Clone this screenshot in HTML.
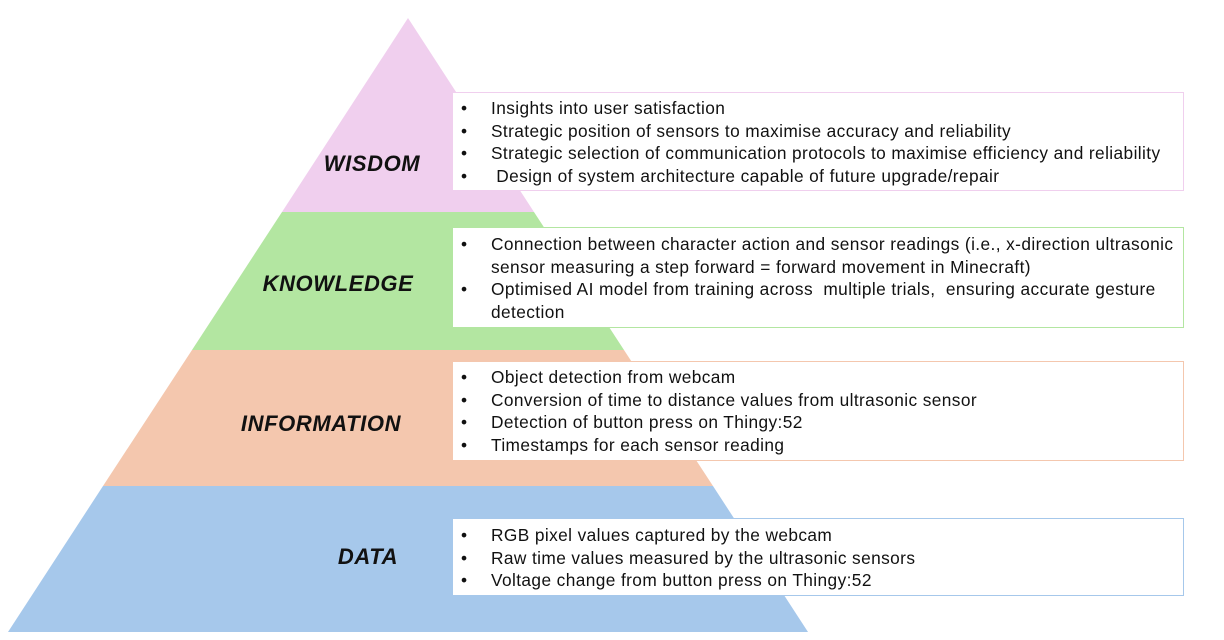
<!DOCTYPE html>
<html><head><meta charset="utf-8"><style>
body{margin:0;width:1224px;height:640px;background:#fff;position:relative;overflow:hidden;font-family:"Liberation Sans",sans-serif}
.lbl{position:absolute;font-weight:bold;font-style:italic;font-size:22px;letter-spacing:0.6px;color:#111;transform:translateX(-50%)}
.box{position:absolute;left:452px;width:732px;background:#fff;box-sizing:border-box;border:1px solid}
.box ul{margin:0;padding:0;list-style:none}
.box li{position:relative;padding-left:38px;font-size:17.3px;letter-spacing:0.4px;line-height:22.5px;color:#111;white-space:nowrap}
.box li:before{content:"•";position:absolute;left:8px}
</style></head><body>
<svg width="1224" height="640" style="position:absolute;left:0;top:0">
<polygon points="408,18 534,212 282,212" fill="#f0cfee"/>
<polygon points="282,212 534,212 624,350 192,350" fill="#b3e6a1"/>
<polygon points="192,350 624,350 713,486 103,486" fill="#f4c7ae"/>
<polygon points="103,486 713,486 808,632 8,632" fill="#a6c8eb"/>
</svg>
<div class="lbl" style="left:372px;top:151px">WISDOM</div>
<div class="lbl" style="left:338px;top:271px">KNOWLEDGE</div>
<div class="lbl" style="left:321px;top:411px">INFORMATION</div>
<div class="lbl" style="left:368px;top:544px">DATA</div>
<div class="box" style="top:92px;height:99px;border-color:#f0cfee;padding-top:4px"><ul>
<li>Insights into user satisfaction</li>
<li>Strategic position of sensors to maximise accuracy and reliability</li>
<li>Strategic selection of communication protocols to maximise efficiency and reliability</li>
<li>&nbsp;Design of system architecture capable of future upgrade/repair</li></ul></div>
<div class="box" style="top:227px;height:101px;border-color:#b3e6a1;padding-top:5px"><ul>
<li>Connection between character action and sensor readings (i.e., x-direction ultrasonic<br>sensor measuring a step forward = forward movement in Minecraft)</li>
<li>Optimised AI model from training across &nbsp;multiple trials, &nbsp;ensuring accurate gesture<br>detection</li></ul></div>
<div class="box" style="top:361px;height:100px;border-color:#f4c7ae;padding-top:4px"><ul>
<li>Object detection from webcam</li>
<li>Conversion of time to distance values from ultrasonic sensor</li>
<li>Detection of button press on Thingy:52</li>
<li>Timestamps for each sensor reading</li></ul></div>
<div class="box" style="top:518px;height:78px;border-color:#a6c8eb;padding-top:5px"><ul>
<li>RGB pixel values captured by the webcam</li>
<li>Raw time values measured by the ultrasonic sensors</li>
<li>Voltage change from button press on Thingy:52</li></ul></div>
</body></html>
